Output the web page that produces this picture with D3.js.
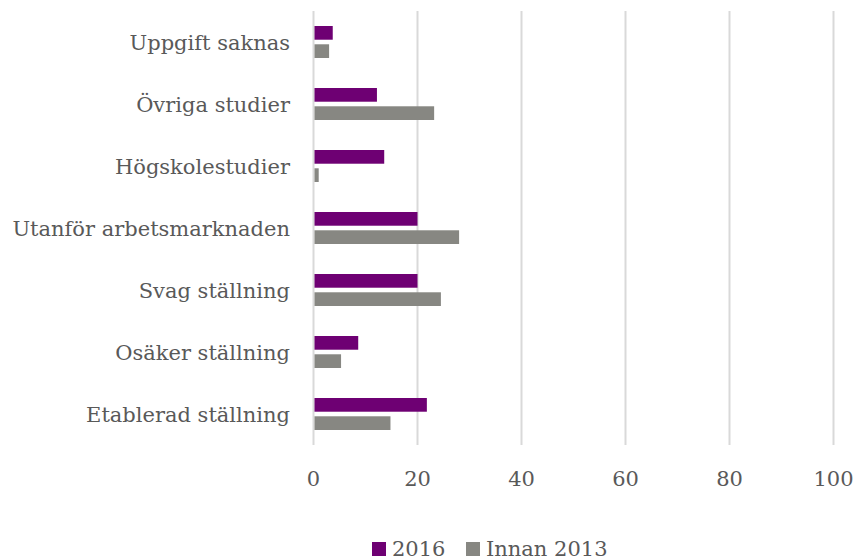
<!DOCTYPE html>
<html>
<head>
<meta charset="utf-8">
<script src="https://cdn.jsdelivr.net/npm/d3@7"></script>
<style>
  body { margin: 0; background: #fff; }
  svg text { font-family: "DejaVu Serif", serif; fill: #595959; font-size: 21px; }
</style>
</head>
<body>
<svg width="864" height="560"></svg>
<script>
const categories = [
  'Uppgift saknas',
  'Övriga studier',
  'Högskolestudier',
  'Utanför arbetsmarknaden',
  'Svag ställning',
  'Osäker ställning',
  'Etablerad ställning',
];
const series = ['2016', 'Innan 2013'];
const values2016 = [3.7, 12.2, 13.6, 20.0, 20.0, 8.6, 21.8];
const valuesInnan = [3.0, 23.2, 1.0, 28.0, 24.5, 5.3, 14.8];
const xTicks = [0, 20, 40, 60, 80, 100];
const colors = ['#6e0073', '#878782'];

const svg = d3.select('svg');
const plotLeft = 313.5, plotRight = 833.5, plotTop = 11, plotBottom = 445;

const xScale = d3.scaleLinear().domain([0, 100]).range([plotLeft, plotRight]);
const yScale = d3.scaleBand().domain(categories).range([plotTop, plotBottom]);
const inner = d3.scaleBand().domain(series).range([15, yScale.bandwidth() - 15]).paddingInner(0.25);

// gridlines
svg.append('g')
  .selectAll('line')
  .data(xTicks)
  .enter()
  .append('line')
  .attr('x1', (d) => xScale(d))
  .attr('x2', (d) => xScale(d))
  .attr('y1', plotTop)
  .attr('y2', plotBottom)
  .attr('stroke', '#d9d9d9')
  .attr('stroke-width', 2);

// tick labels
svg.append('g')
  .selectAll('text')
  .data(xTicks)
  .enter()
  .append('text')
  .attr('x', (d) => xScale(d))
  .attr('y', 486)
  .attr('text-anchor', 'middle')
  .text((d) => d);

// category labels
svg.append('g')
  .selectAll('text')
  .data(categories)
  .enter()
  .append('text')
  .attr('x', 290)
  .attr('y', (d) => yScale(d) + yScale.bandwidth() / 2 + 8)
  .attr('text-anchor', 'end')
  .text((d) => d);

const rows = categories.map((c, i) => ({ cat: c, vals: [values2016[i], valuesInnan[i]] }));

const groups = svg.append('g')
  .selectAll('g')
  .data(rows)
  .enter()
  .append('g')
  .attr('transform', (d) => `translate(0,${yScale(d.cat)})`);

groups.selectAll('rect')
  .data((d) => d.vals.map((v, j) => ({ s: series[j], v: v, j: j })))
  .enter()
  .append('rect')
  .attr('x', xScale(0) + 1)
  .attr('y', (d) => inner(d.s))
  .attr('width', (d) => xScale(d.v) - xScale(0) - 1)
  .attr('height', inner.bandwidth())
  .attr('fill', (d) => colors[d.j]);

// legend
const legend = svg.append('g').attr('transform', 'translate(372,542)');
const legendX = [0, 94];
series.forEach((s, j) => {
  legend.append('rect')
    .attr('x', legendX[j])
    .attr('y', 0)
    .attr('width', 14)
    .attr('height', 14)
    .attr('fill', colors[j]);
  legend.append('text')
    .attr('x', legendX[j] + 20)
    .attr('y', 14)
    .text(s);
});
</script>
</body>
</html>
